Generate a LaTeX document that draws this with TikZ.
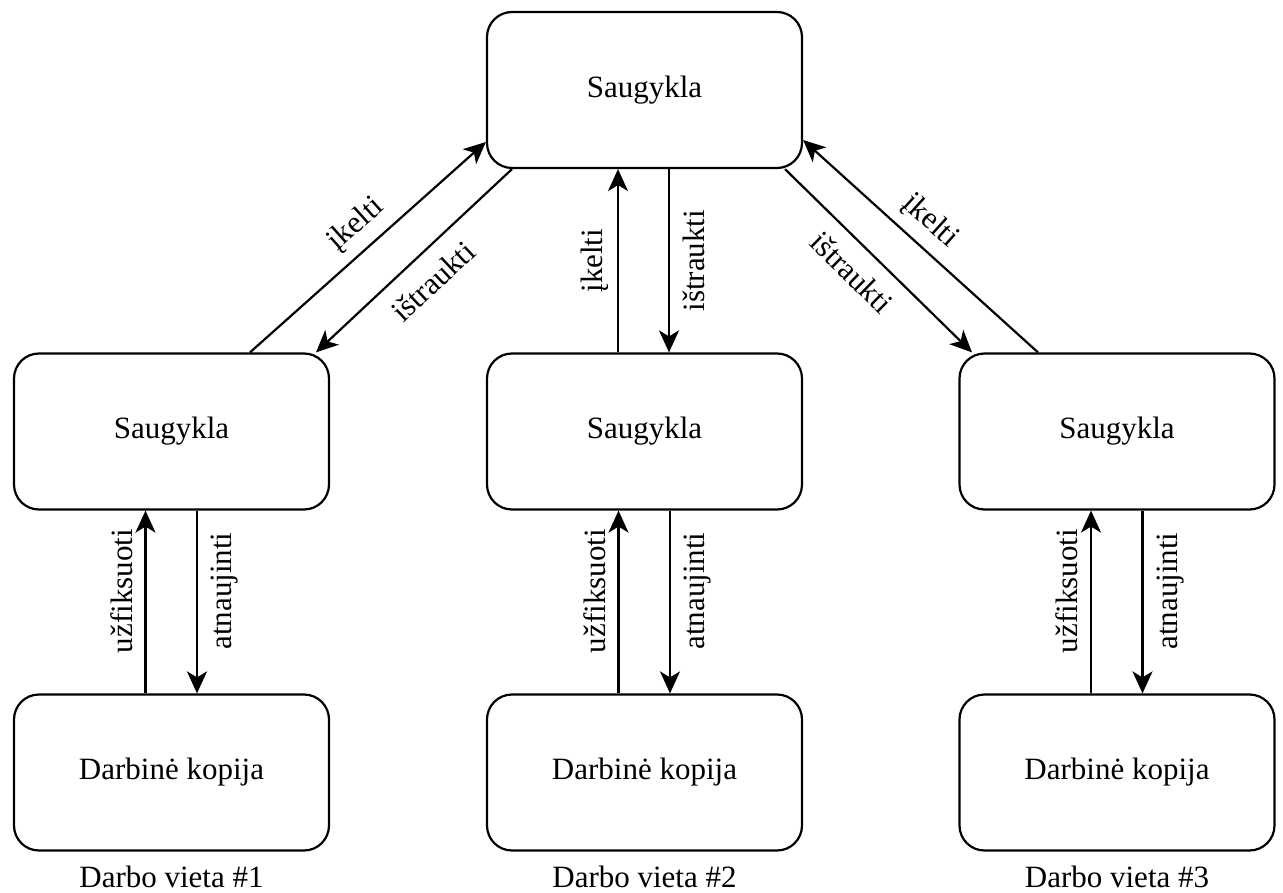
\documentclass[tikz,border=0pt]{standalone}
\usepackage{fontspec}
\setmainfont{Liberation Serif}
\usetikzlibrary{arrows.meta}
\begin{document}
\begin{tikzpicture}[x=1pt,y=-1pt,
  box/.style={draw, line width=2.2pt, rounded corners=25pt, minimum width=315pt,
    minimum height=156pt, font=\fontsize{31}{37}\selectfont, inner sep=0pt},
  conn/.style={line width=2.2pt},
  tip/.tip={Stealth[length=22pt,width=20pt,inset=6pt]},
  lbl/.style={font=\fontsize{31}{37}\selectfont, sloped, inner sep=3pt},
  caption/.style={font=\fontsize{31}{37}\selectfont, anchor=base}]
\path[use as bounding box] (0,0) rectangle (1283,893);

% central repository
\node[box] (t) at (644.5,90) {Saugykla};
% local repositories
\node[box] (m1) at (171.5,431.5) {Saugykla};
\node[box] (m2) at (644.5,431.5) {Saugykla};
\node[box] (m3) at (1117,431.5) {Saugykla};
% working copies
\node[box] (b1) at (171.5,772.5) {Darbinė kopija};
\node[box] (b2) at (644.5,772.5) {Darbinė kopija};
\node[box] (b3) at (1117,772.5) {Darbinė kopija};
% workplace captions
\node[caption] (c1) at (171.5,887) {Darbo vieta \#1};
\node[caption] (c2) at (644.5,887) {Darbo vieta \#2};
\node[caption] (c3) at (1117,887) {Darbo vieta \#3};

% central <-> local, left
\draw[conn,-tip] ([xshift=78.5pt]m1.north) -- node[lbl,above=7pt,pos=0.52]{įkelti} ([yshift=-52pt]t.west);
\draw[conn,tip-] ([xshift=144.5pt]m1.north) -- node[lbl,below=13pt,pos=0.5]{ištraukti} ([xshift=-132.5pt]t.south);
% central <-> local, middle
\draw[conn,-tip] ([xshift=-26.5pt]m2.north) -- node[lbl,above=5pt]{įkelti} ([xshift=-26.5pt]t.south);
\draw[conn,tip-] ([xshift=24.5pt]m2.north) -- node[lbl,below=10pt]{ištraukti} ([xshift=24.5pt]t.south);
% central <-> local, right
\draw[conn,-tip] ([xshift=140.5pt]t.south) -- node[lbl,below=12pt,pos=0.46]{ištraukti} ([xshift=-145pt]m3.north);
\draw[conn,tip-] ([yshift=-50pt]t.east) -- node[lbl,above=7pt,pos=0.47]{įkelti} ([xshift=-79pt]m3.north);

% local <-> working copy
\foreach \i in {1,2,3}{
  \draw[conn,-tip] ([xshift=-26pt]b\i.north) -- node[lbl,above=9pt,pos=0.56]{užfiksuoti} ([xshift=-26pt]m\i.south);
  \draw[conn,tip-] ([xshift=25.5pt]b\i.north) -- node[lbl,below=10pt,pos=0.56]{atnaujinti} ([xshift=25.5pt]m\i.south);
}
\end{tikzpicture}
\end{document}
